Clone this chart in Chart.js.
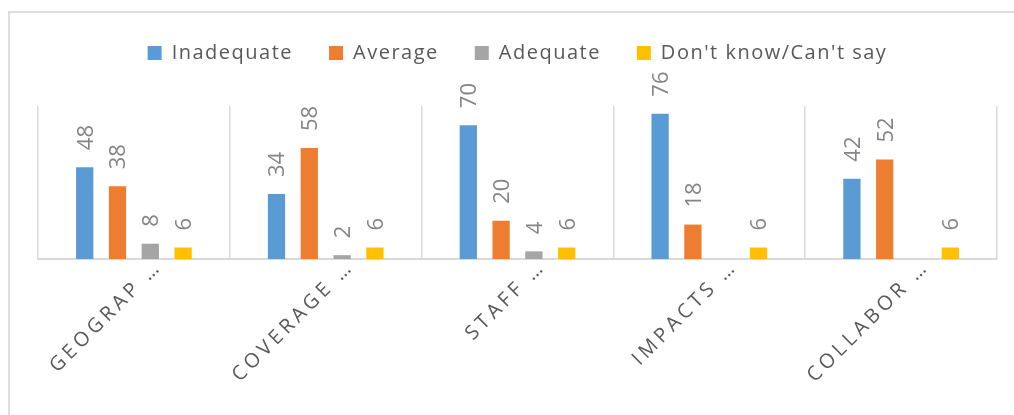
<!DOCTYPE html>
<html>
<head>
<meta charset="utf-8">
<script src="https://cdn.jsdelivr.net/npm/chart.js@4.4.1/dist/chart.umd.min.js"></script>
<style>
  body { margin: 0; background: #fff; overflow: hidden; }
  #frame { position: absolute; left: 8px; top: 11px; width: 1100px; height: 500px; border: 2px solid #dedede; }
  #wrap { position: absolute; left: 0; top: 0; width: 1014px; height: 415px; }
</style>
</head>
<body>
<div id="frame"></div>
<div id="wrap"><canvas id="surveyChart"></canvas></div>
<script>
const categories = ["GEOGRAP \u2026", "COVERAGE \u2026", "STAFF \u2026", "IMPACTS \u2026", "COLLABOR \u2026"];
const inadequate = [48, 34, 70, 76, 42];
const average = [38, 58, 20, 18, 52];
const adequate = [8, 2, 4, null, null];
const dontKnow = [6, 6, 6, 6, 6];

Chart.defaults.font.family = "'Open Sans', sans-serif";

// letter spacing on the legend and the category labels
const spacing = {
  id: "spacing",
  beforeInit(chart) {
    const legend = chart.legend;
    const fit = legend.fit;
    legend.fit = function () {
      chart.ctx.save();
      chart.ctx.letterSpacing = "1.5px";
      fit.call(this);
      chart.ctx.restore();
      this.height += 33;
    };
    const draw = legend.draw;
    legend.draw = function (area) {
      chart.ctx.save();
      chart.ctx.letterSpacing = "1.5px";
      draw.call(this, area);
      chart.ctx.restore();
    };
  },
  beforeDraw(chart) {
    const x = chart.scales.x;
    if (x._spaced) return;
    const drawLabels = x.drawLabels;
    x.drawLabels = function (area) {
      chart.ctx.save();
      chart.ctx.letterSpacing = "4px";
      drawLabels.call(this, area);
      chart.ctx.restore();
    };
    x._spaced = true;
  },
};

// value labels, rotated, above each bar
const valueLabels = {
  id: "valueLabels",
  afterDatasetsDraw(chart) {
    const ctx = chart.ctx;
    const size = 22;
    chart.data.datasets.forEach((ds, i) => {
      chart.getDatasetMeta(i).data.forEach((bar, j) => {
        const v = ds.data[j];
        if (v == null) return;
        ctx.save();
        ctx.translate(bar.x, bar.y - 17);
        ctx.rotate(-Math.PI / 2);
        ctx.font = size + "px 'Open Sans', sans-serif";
        ctx.fillStyle = "#858585";
        ctx.textAlign = "left";
        ctx.textBaseline = "alphabetic";
        ctx.fillText(String(v), 0, size * 0.36);
        ctx.restore();
      });
    });
  },
};

const bars = (label, data, color) => ({
  label,
  data,
  backgroundColor: color,
  categoryPercentage: 0.684,
  barPercentage: 0.527,
});

new Chart(document.getElementById("surveyChart"), {
  type: "bar",
  data: {
    labels: categories,
    datasets: [
      bars("Inadequate", inadequate, "#5b9bd5"),
      bars("Average", average, "#ed7d31"),
      bars("Adequate", adequate, "#a5a5a5"),
      bars("Don't know/Can't say", dontKnow, "#ffc000"),
    ],
  },
  options: {
    responsive: true,
    maintainAspectRatio: false,
    animation: false,
    layout: { padding: { top: 7, left: 38, right: 17, bottom: 0 } },
    plugins: {
      legend: {
        position: "top",
        labels: {
          boxWidth: 14,
          boxHeight: 14,
          padding: 36,
          color: "#595959",
          font: { size: 20 },
        },
      },
      tooltip: { enabled: false },
    },
    scales: {
      x: {
        grid: { color: "#d9d9d9", lineWidth: 1.5, drawTicks: false, offset: true },
        border: { color: "#d9d9d9", width: 2 },
        ticks: {
          color: "#595959",
          font: { size: 20 },
          minRotation: 45,
          maxRotation: 45,
          autoSkip: false,
          padding: -4,
          labelOffset: 25,
        },
        afterFit(scale) {
          scale.height = 156;
        },
      },
      y: {
        display: false,
        min: 0,
        max: 80,
      },
    },
  },
  plugins: [spacing, valueLabels],
});
</script>
</body>
</html>
